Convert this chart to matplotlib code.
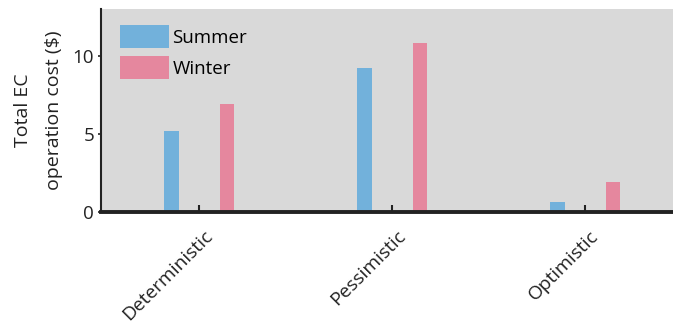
import numpy as np
import matplotlib
matplotlib.use("Agg")
from matplotlib import pyplot as plt
from matplotlib.transforms import ScaledTranslation

scenarios = ['Deterministic', 'Pessimistic', 'Optimistic']
summer = [5.2, 9.2, 0.65]
winter = [6.9, 10.8, 1.95]
seasons = ['Summer', 'Winter']
colors = ['#72B1DB', '#E5879E']

plt.rcParams['font.family'] = ['Open Sans', 'DejaVu Sans']

fig = plt.figure(figsize=(6.73, 3.25), dpi=100)
ax = fig.add_axes([101 / 673, 113 / 325, 572 / 673, 203 / 325])
ax.set_facecolor('#D9D9D9')

x = np.arange(len(scenarios))
off = 0.143
w = 0.074
ax.bar(x - off, summer, w, color=colors[0], label=seasons[0], zorder=2)
ax.bar(x + off, winter, w, color=colors[1], label=seasons[1], zorder=2)

ax.set_xlim(-0.508, 2.455)
ax.set_ylim(0, 13)
ax.set_yticks([0, 5, 10])
ax.set_xticks(x)
ax.tick_params(axis='x', direction='in', length=5, width=1.5, color='#222222', pad=8)
ax.tick_params(axis='y', direction='out', length=2, width=1.2, color='#222222',
               labelsize=13.5, labelcolor='#222222', pad=3)
ax.set_xticklabels(scenarios, rotation=45, ha='right', va='top',
                   rotation_mode='anchor', fontsize=13.8, color='#222222')
# nudge the rotated labels a little right and down
shift = ScaledTranslation(4 / 100, -4 / 100, fig.dpi_scale_trans)
for lbl in ax.get_xticklabels():
    lbl.set_transform(lbl.get_transform() + shift)

for s in ['top', 'right']:
    ax.spines[s].set_visible(False)
ax.spines['left'].set_linewidth(1.5)
ax.spines['bottom'].set_linewidth(2.8)
ax.spines['left'].set_color('#222222')
ax.spines['bottom'].set_color('#222222')

ax.set_ylabel('Total EC\noperation cost ($)', fontsize=14, color='#222222',
              linespacing=1.9, labelpad=7)

ax.legend(loc='upper left', frameon=False, fontsize=13.5, handlelength=2.6,
          handleheight=1.52, handletextpad=0.2, labelspacing=0.42,
          borderaxespad=0.0, borderpad=0.0,
          bbox_to_anchor=(19 / 572, 1 - 16 / 203))

fig.savefig('out.png', dpi=100)
